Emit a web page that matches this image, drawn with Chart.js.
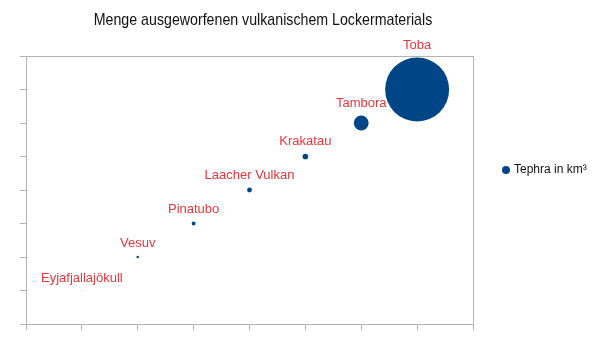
<!DOCTYPE html>
<html>
<head>
<meta charset="utf-8">
<script src="https://cdn.jsdelivr.net/npm/chart.js@4"></script>
<style>
html,body{margin:0;padding:0;background:#fff;}
#wrap{width:600px;height:345px;position:relative;}
</style>
</head>
<body>
<div id="wrap"><canvas id="c" width="600" height="345"></canvas></div>
<script>
const titleText = 'Menge ausgeworfenen vulkanischem Lockermaterials';
const seriesName = 'Tephra in km³';
const volcanoes = ['Eyjafjallajökull', 'Vesuv', 'Pinatubo', 'Laacher Vulkan', 'Krakatau', 'Tambora', 'Toba'];
const xValues = [1, 2, 3, 4, 5, 6, 7];
const yValues = [1, 2, 3, 4, 5, 6, 7];
const tephra = [0.25, 4, 10, 16, 22, 150, 2800];
const axisMin = 0;
const axisMax = 8;

const BLUE = '#004586';
const LABEL_RED = '#e0383c';
const FONT = '"Liberation Sans", Arial, sans-serif';
const MAX_R = 32;
const maxTephra = Math.max(...tephra);

const points = xValues.map((x, i) => ({x: x, y: yValues[i], r: MAX_R * Math.sqrt(tephra[i] / maxTephra)}));

const frame = {
  id: 'frame',
  beforeDatasetsDraw(chart) {
    const a = chart.chartArea, ctx = chart.ctx;
    ctx.save();
    ctx.strokeStyle = '#b3b3b3';
    ctx.lineWidth = 1;
    ctx.strokeRect(Math.round(a.left) + 0.5, Math.round(a.top) + 0.5, Math.round(a.right - a.left), Math.round(a.bottom - a.top));
    ctx.restore();
  }
};

const labels = {
  id: 'labels',
  afterDatasetsDraw(chart) {
    const ctx = chart.ctx;
    const meta = chart.getDatasetMeta(0);
    ctx.save();
    ctx.font = '13px ' + FONT;
    ctx.fillStyle = LABEL_RED;
    ctx.textAlign = 'center';
    ctx.textBaseline = 'middle';
    meta.data.forEach((el, i) => {
      const r = el.options.radius;
      ctx.fillText(volcanoes[i], el.x, el.y - r - 12);
    });
    ctx.restore();
  }
};

const titleAndLegend = {
  id: 'titleAndLegend',
  afterDraw(chart) {
    const ctx = chart.ctx;
    ctx.save();
    ctx.fillStyle = '#111';
    ctx.font = '17px ' + FONT;
    ctx.textAlign = 'center';
    ctx.textBaseline = 'middle';
    ctx.translate(263, 20);
    ctx.scale(0.835, 1);
    ctx.fillText(titleText, 0, 0);
    ctx.restore();
    ctx.save();
    // legend
    ctx.beginPath();
    ctx.fillStyle = BLUE;
    ctx.arc(506, 170, 4, 0, Math.PI * 2);
    ctx.fill();
    ctx.fillStyle = '#111';
    ctx.font = '12px ' + FONT;
    ctx.textAlign = 'left';
    ctx.textBaseline = 'middle';
    ctx.fillText(seriesName, 514, 170);
    ctx.restore();
  }
};

new Chart(document.getElementById('c'), {
  type: 'bubble',
  data: {
    datasets: [{
      label: seriesName,
      data: points,
      backgroundColor: BLUE,
      borderColor: BLUE,
      borderWidth: 0,
      hoverRadius: 0
    }]
  },
  options: {
    responsive: false,
    animation: false,
    layout: {autoPadding: false, padding: {left: 20, top: 56, right: 127, bottom: 15}},
    plugins: {
      legend: {display: false},
      title: {display: false},
      tooltip: {enabled: false}
    },
    scales: {
      x: {
        type: 'linear', min: axisMin, max: axisMax,
        ticks: {display: false, stepSize: 1},
        grid: {drawOnChartArea: false, drawTicks: true, tickLength: 6, color: '#b3b3b3'},
        border: {display: true, color: '#b3b3b3'}
      },
      y: {
        type: 'linear', min: axisMin, max: axisMax,
        ticks: {display: false, stepSize: 1},
        grid: {drawOnChartArea: false, drawTicks: true, tickLength: 6, color: '#b3b3b3'},
        border: {display: true, color: '#b3b3b3'}
      }
    }
  },
  plugins: [frame, labels, titleAndLegend]
});
</script>
</body>
</html>
